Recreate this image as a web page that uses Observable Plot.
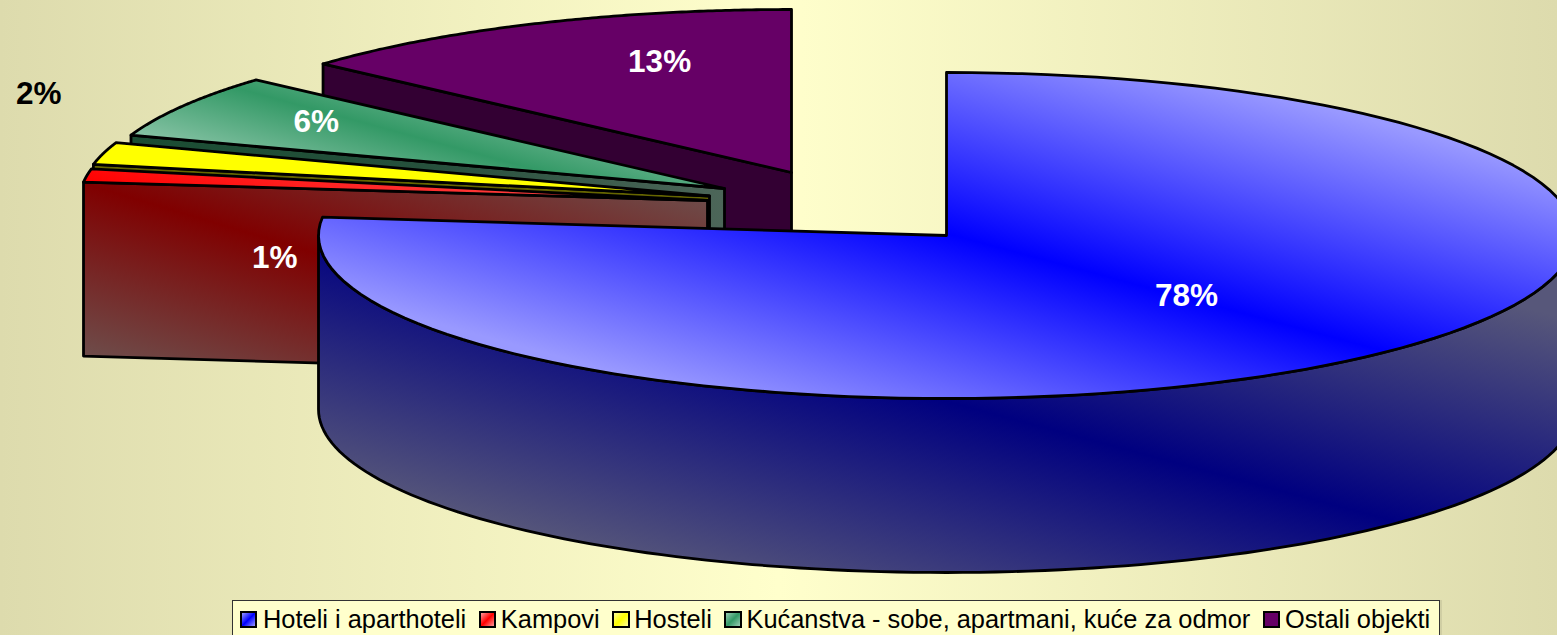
<!DOCTYPE html>
<html>
<head>
<meta charset="utf-8">
<script src="https://cdn.jsdelivr.net/npm/d3@7"></script>
<script src="https://cdn.jsdelivr.net/npm/@observablehq/plot@0.6"></script>
<style>
html,body{margin:0;padding:0;width:1557px;height:635px;overflow:hidden;
  background:linear-gradient(90deg,#DDDBAD 0%,#FFFFCC 50%,#DDDBAD 100%);}
svg{display:block;background:transparent !important;overflow:hidden;}
#legend{position:absolute;left:232px;top:600px;width:1208px;height:42px;box-sizing:border-box;
  border:1.5px solid #333;background:#FFFFCC;display:flex;align-items:flex-start;padding:4px 0 0 6.5px;
  box-shadow:2px 0 0 rgba(0,0,0,.08);
  font:25.4px/29px "Liberation Sans",Arial,sans-serif;color:#000;white-space:nowrap;}
#legend .item{display:flex;align-items:center;margin-right:12.6px;}
#legend .sw{width:13.5px;height:13.5px;border:2.5px solid #000;margin-right:4.5px;flex:none;}
#legend .item:first-child .sw{margin-right:6px;}
</style>
</head>
<body>
<div id="chart"></div>
<div id="legend"></div>
<script>
// ---- data ----
const categories = ["Hoteli i aparthoteli", "Kampovi", "Hosteli", "Kućanstva - sobe, apartmani, kuće za odmor", "Ostali objekti"];
const sliceShares = [76.8, 1.3, 2.2, 6.3, 13.4];      // swept share of the drawn slices
const labelTexts = ["78%", "1%", "2%", "6%", "13%"];  // printed labels

// ---- layout and style ----
const rx = 628, ry = 163, depth = 174;
const centers = [[946, 235], [707, 200], [709, 195.5], [724, 188], [791, 172]];
const labelOffsets = [[0.382, 0.368], [-0.689, 0.350], [-1.068, -0.629], [-0.650, -0.411], [-0.21, -0.681]];
const labelColors = ["white", "white", "black", "white", "white"];
const legendFills = [
  "linear-gradient(135deg,#9999FF,#0000FF 50%,#9999FF)",
  "linear-gradient(135deg,#FF9999,#FF0000 50%,#FF9999)",
  "linear-gradient(135deg,#FFFF99,#FFFF00 50%,#FFFF99)",
  "linear-gradient(135deg,#99CCB3,#339966 50%,#99CCB3)",
  "#660066"
];
const gradients = [
  {id: "blueTop",  x1: 1003, y1: 21,  x2: 889, y2: 445, stops: ["#9999FF", "#0000FF", "#9999FF"]},
  {id: "blueRim",  x1: 1008, y1: 169, x2: 884, y2: 633, stops: ["#57577A", "#000080", "#57577A"]},
  {id: "redWall",  x1: 146,  y1: 35,  x2: 54,  y2: 341, stops: ["#6E4A48", "#800000", "#6E4A48"]},
  {id: "redTop",   x1: 146,  y1: 35,  x2: 54,  y2: 341, stops: ["#FF5050", "#FF0000", "#FF5050"]},
  {id: "greenTop", x1: 321,  y1: 28,  x2: 279, y2: 182, stops: ["#8FC7AB", "#339966", "#8FC7AB"]},
  {id: "greenWall",x1: 130,  y1: 0,   x2: 724, y2: 0,   stops: ["#1A4D33", "#26503C", "#4D6659"]}
];
const topFills  = ["url(#blueTop)", "url(#redTop)", "#FFFF00", "url(#greenTop)", "#660066"];
const wallFills = ["url(#blueRim)", "url(#redWall)", "#666600", "url(#greenWall)", "#330033"];

// ---- geometry from the shares ----
const total = d3.sum(sliceShares);
let acc = 0;
const slices = categories.map((name, i) => {
  const a0 = acc / total * 360; acc += sliceShares[i];
  return {name, i, a0, a1: acc / total * 360, c: centers[i]};
});
const pt = (s, deg, dy = 0) => {
  const t = deg * Math.PI / 180;
  return {x: s.c[0] + rx * Math.sin(t), y: s.c[1] - ry * Math.cos(t) + dy};
};
const arc = (s, a0, a1, dy = 0) => d3.range(0, 121).map(k => pt(s, a0 + (a1 - a0) * k / 120, dy));
const apex = (s, dy = 0) => ({x: s.c[0], y: s.c[1] + dy});
const topFace = s => { const p = [apex(s), ...arc(s, s.a0, s.a1)]; return [...p, p[0]]; };
const cutWall = s => {                 // front-facing cut face at the counter-clockwise edge of the slice
  const a = pt(s, s.a0);
  return [a, apex(s), apex(s, depth), pt(s, s.a0, depth), a];
};
const rimFace = s => {                 // outer rim of the large slice
  const up = arc(s, 90, 270), down = arc(s, 270, 90, depth);
  return [...up, ...down, up[0]];
};
const face = (data, fill) => Plot.line(data, {x: "x", y: "y", fill, stroke: "#000", strokeWidth: 2.8, strokeLinejoin: "round", curve: "linear"});

const marks = [
  () => {
    const defs = d3.create("svg:defs");
    gradients.forEach(g => {
      const lg = defs.append("linearGradient").attr("id", g.id).attr("gradientUnits", "userSpaceOnUse")
        .attr("x1", g.x1).attr("y1", g.y1).attr("x2", g.x2).attr("y2", g.y2);
      g.stops.forEach((c, k) => lg.append("stop").attr("offset", k / (g.stops.length - 1)).attr("stop-color", c));
    });
    return defs.node();
  }
];
[4, 3, 2, 1].forEach(i => {
  marks.push(face(cutWall(slices[i]), wallFills[i]));
  marks.push(face(topFace(slices[i]), topFills[i]));
});
marks.push(face(rimFace(slices[0]), wallFills[0]));
marks.push(face(topFace(slices[0]), topFills[0]));
marks.push(Plot.text(slices, {
  x: s => s.c[0] + rx * labelOffsets[s.i][0],
  y: s => s.c[1] + ry * labelOffsets[s.i][1],
  text: s => labelTexts[s.i],
  fill: s => labelColors[s.i],
  fontSize: 31.5, fontWeight: "bold", fontFamily: "Liberation Sans", textAnchor: "middle", lineAnchor: "middle"
}));

const chart = Plot.plot({
  width: 1557, height: 600, margin: 0,
  x: {domain: [0, 1557], range: [0, 1557], axis: null},
  y: {domain: [0, 600], range: [0, 600], axis: null},
  color: {type: "identity"},
  marks
});
document.getElementById("chart").append(chart);

const legend = d3.select("#legend");
categories.forEach((name, i) => {
  const it = legend.append("div").attr("class", "item");
  it.append("span").attr("class", "sw").style("background", legendFills[i]);
  it.append("span").text(name);
});
</script>
</body>
</html>
